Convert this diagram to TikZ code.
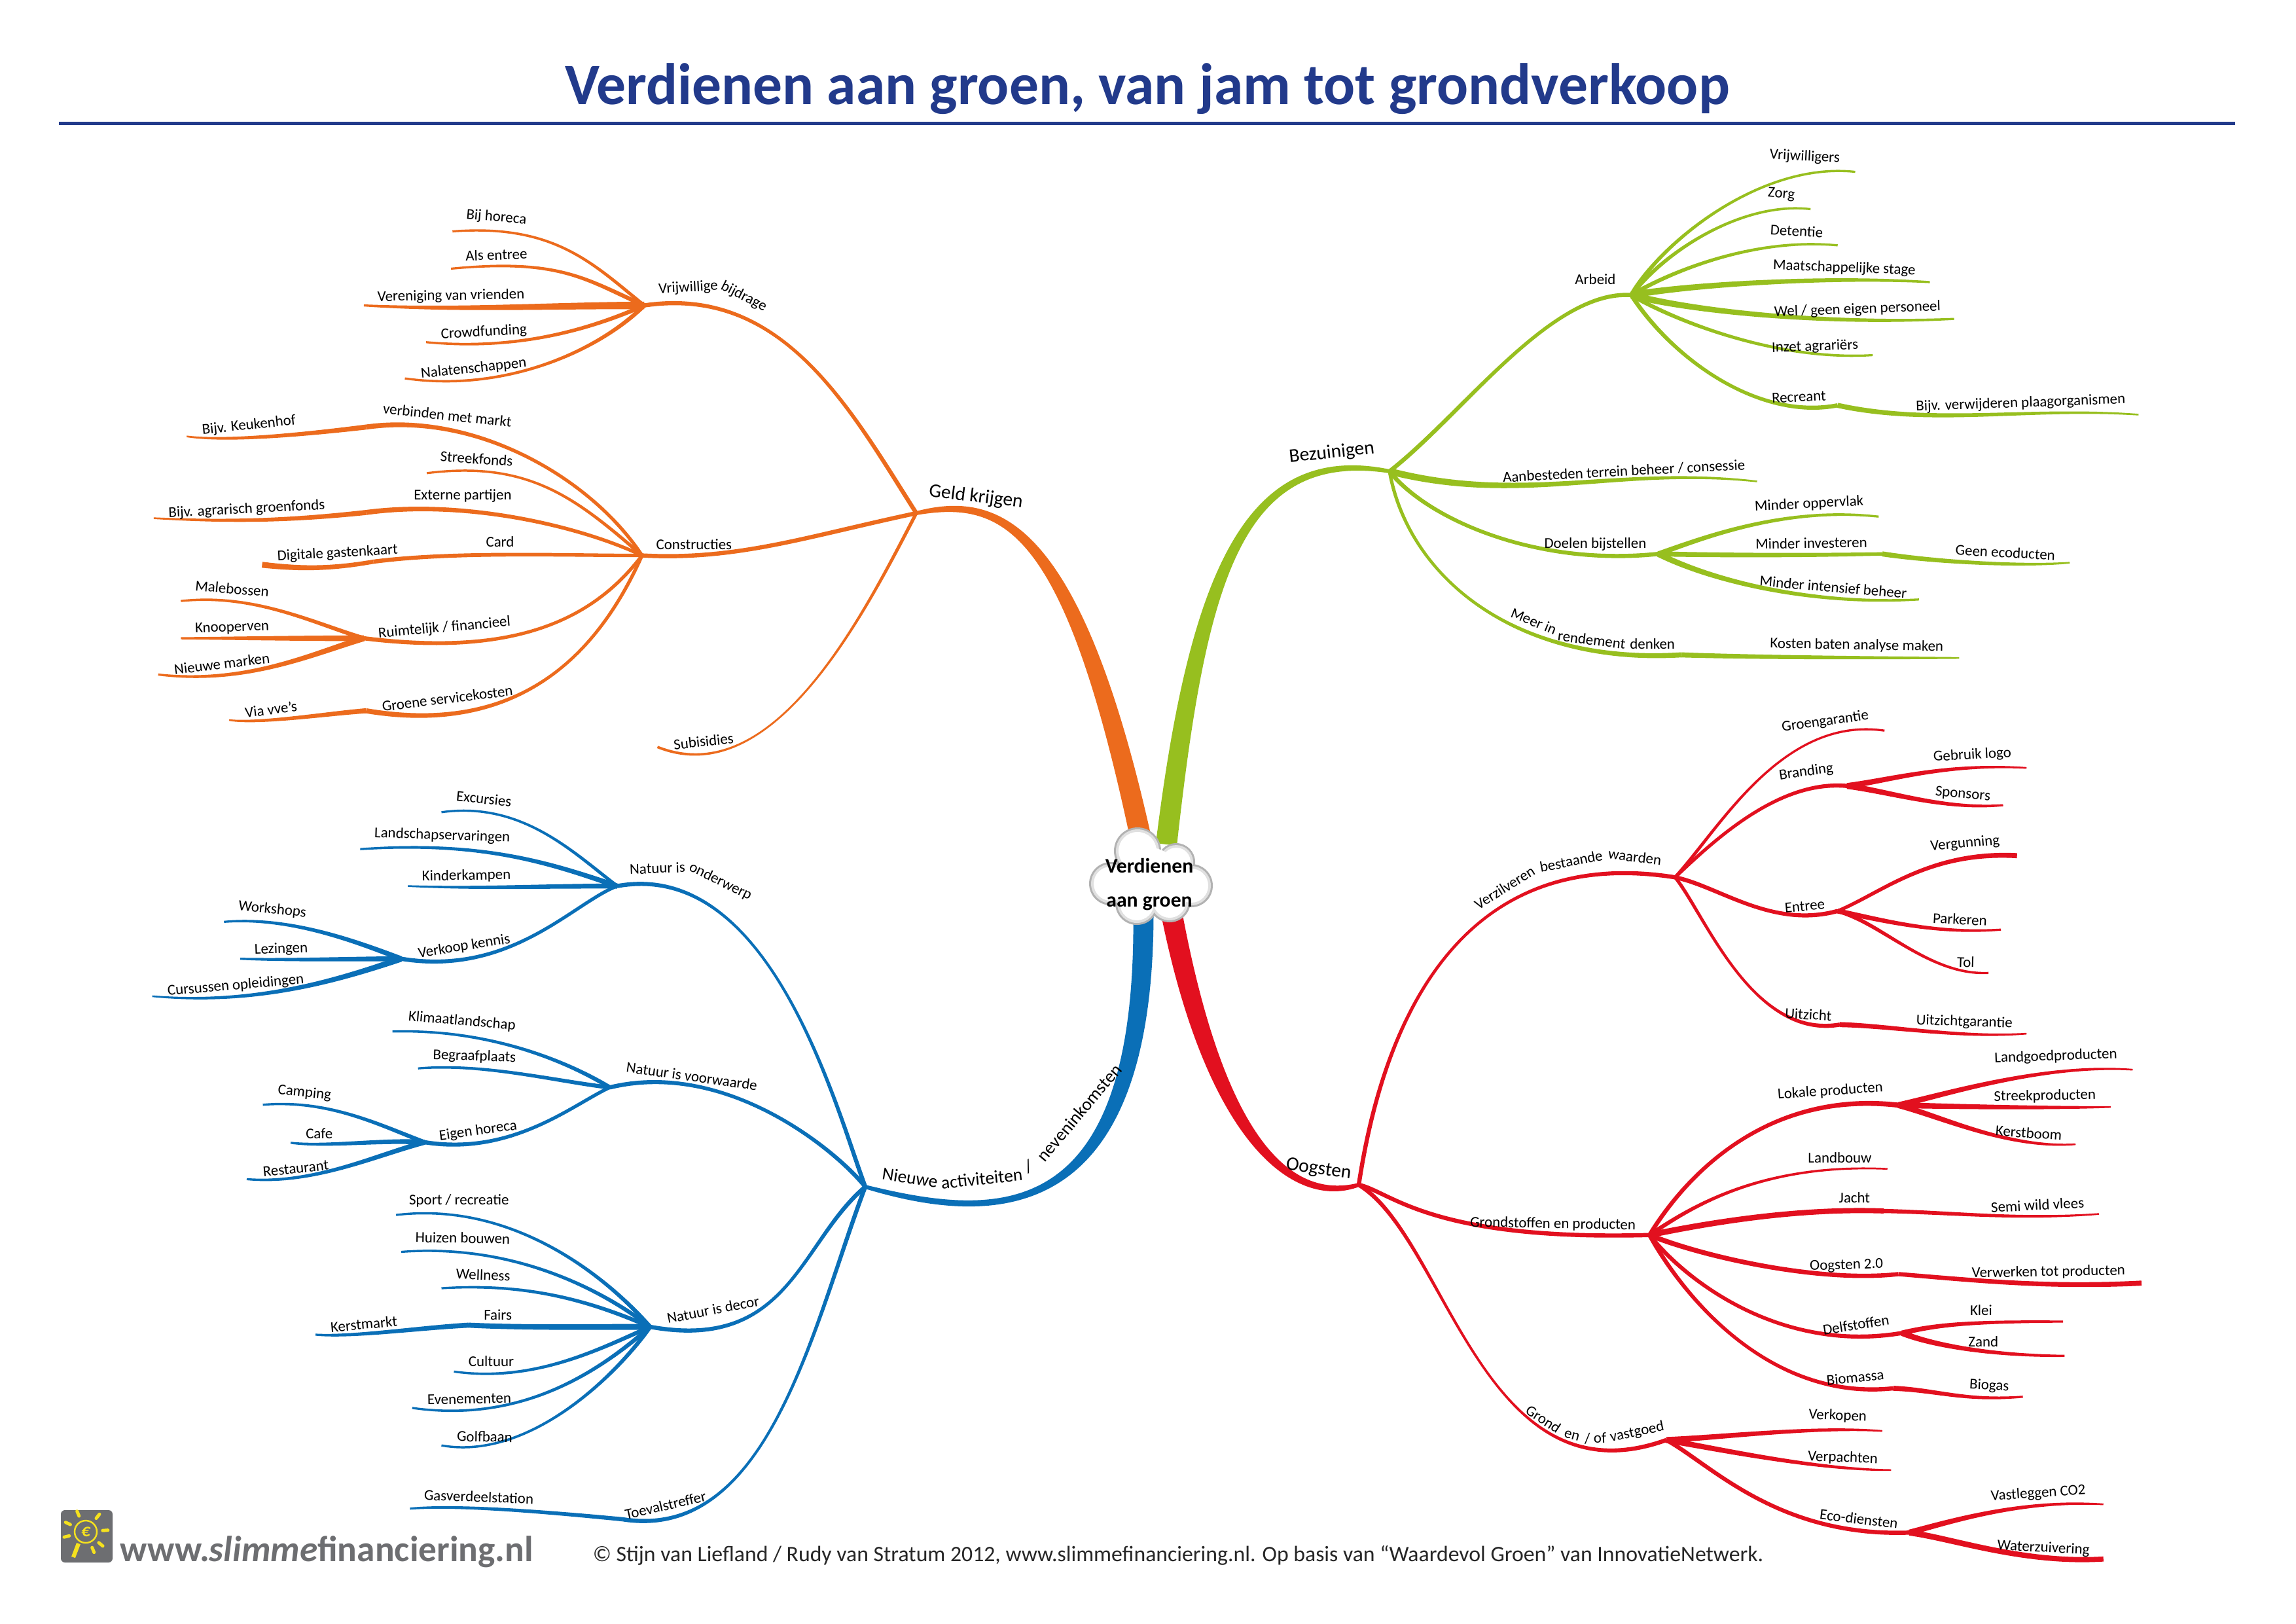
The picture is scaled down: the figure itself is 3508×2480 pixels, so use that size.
\documentclass[tikz,border=0pt]{standalone}
\usepackage{fontspec}
\setmainfont{Carlito}
\usetikzlibrary{calc}
\definecolor{corange}{HTML}{EC6B1D}
\definecolor{cgreen}{HTML}{97BF1F}
\definecolor{cblue}{HTML}{0A6FB7}
\definecolor{cred}{HTML}{E2101F}
\definecolor{ctitle}{HTML}{223A8B}
\definecolor{cgrey}{HTML}{6D6E71}
\definecolor{cyell}{HTML}{F5E11E}
\tikzset{
  lab/.style={font=\fontsize{5.5}{6.5}\selectfont,inner sep=0pt,text=black},
  mainlab/.style={font=\fontsize{7.1}{8}\selectfont,inner sep=0pt,text=black},
  nwlab/.style={font=\fontsize{6.6}{8}\selectfont,inner sep=0pt,text=black},
  ptA/.style={x=0.26847pt,y=-0.18980pt,shift={(0pt,0pt)}},
  ptB/.style={x=0.26847pt,y=-0.18980pt,shift={(420.96pt,0pt)}},
  ptC/.style={x=0.26847pt,y=-0.20510pt,shift={(0pt,-273.6pt)}},
  ptD/.style={x=0.26847pt,y=-0.22041pt,shift={(420.96pt,-249.6pt)}}
}
% tapered branch: from A to new coordinate B
\newcommand\lf[7]{%
  \coordinate (#2) at (#3);
  \path (#1) ++(#6) coordinate (tmpa);
  \path (#2) ++(#7) coordinate (tmpb);
  \pgfmathsetlengthmacro\ha{#4*0.155}%
  \pgfmathsetlengthmacro\hb{#5*0.155}%
  \pgfmathsetlengthmacro\hc{(0.8*#4+0.2*#5)*0.155}%
  \pgfmathsetlengthmacro\hd{(0.45*#4+0.55*#5)*0.155}%
  \fill[\cc] ($(#1)!\ha!90:(tmpa)$) .. controls ($(tmpa)!\hc!-90:(#1)$) and ($(tmpb)!\hd!90:(#2)$) .. ($(#2)!\hb!-90:(tmpb)$)
    -- ($(#2)!\hb!90:(tmpb)$) .. controls ($(tmpb)!\hd!-90:(#2)$) and ($(tmpa)!\hc!90:(#1)$) .. ($(#1)!\ha!-90:(tmpa)$) -- cycle;
}
\newcommand\lab[4]{\node[lab,rotate=#3] (#1) at (#2) {#4};}
\newcommand\mlab[4]{\node[mainlab,rotate=#3] (#1) at (#2) {#4};}
\newcommand\nlab[4]{\node[nwlab,rotate=#3] (#1) at (#2) {#4};}
\begin{document}
\begin{tikzpicture}[x=0.24pt,y=-0.24pt]
\useasboundingbox (0,0) rectangle (3508,2480);
\fill[white] (0,0) rectangle (3508,2480);
% title
\node[font=\fontsize{21.5}{24}\selectfont\bfseries,text=ctitle,inner sep=0pt,anchor=base] (title) at (1753,159) {Verdienen aan groen, van jam tot grondverkoop};
\coordinate (ruleL) at (90,188); \coordinate (ruleR) at (3415,188);
\draw[ctitle,line width=1.2pt] (ruleL) -- (ruleR);
% main branches
\coordinate (sGeld) at (1745,1290);
\coordinate (sBez) at (1782,1290);
\coordinate (sNw) at (1747,1395);
\coordinate (sOog) at (1790,1395);
\def\cc{corange}\lf{sGeld}{geld}{1400,784}{25}{4.5}{-105,-490}{130,-28}
\def\cc{cgreen}\lf{sBez}{bez}{2123,720}{25}{4.5}{48,-410}{-223,-40}
\def\cc{cblue}\lf{sNw}{nieuw}{1322,1813}{24}{4.5}{2,480}{200,55}
\def\cc{cred}\lf{sOog}{oog}{2076,1810}{25}{4.5}{70,360}{-96,30}
% ---------- orange
\begin{scope}[ptA]
\def\cc{corange}
\lf{geld}{vb}{880,590}{5}{5}{-90,-200}{190,-40}
\lf{geld}{con}{877,1073}{5}{5}{-150,45}{130,10}
\lf{geld}{sub}{898,1443}{4}{3}{-70,190}{160,90}
\lf{vb}{e1}{618,447}{4}{2.5}{-70,-80}{140,-15}
\lf{vb}{e2}{616,519}{5}{2.5}{-80,-50}{150,-20}
\lf{vb}{e3}{497,590}{9}{2.5}{-130,0}{130,10}
\lf{vb}{e4}{582,661}{5}{2.5}{-80,50}{120,16}
\lf{vb}{e5}{553,731}{5}{2.5}{-60,85}{140,28}
\lf{con}{verb}{500,825}{4}{6}{-70,-150}{150,-30}
\lf{verb}{e6}{255,843}{6}{2}{-60,10}{60,12}
\lf{con}{e7}{583,914}{4}{2.5}{-90,-110}{140,-25}
\lf{con}{ext}{500,990}{4}{6}{-90,-60}{130,-25}
\lf{ext}{e8}{210,1001}{6}{2}{-100,15}{110,8}
\lf{con}{card}{510,1085}{4}{5}{-110,0}{110,-20}
\lf{card}{e9}{358,1091}{5}{7}{-60,15}{50,8}
\lf{con}{ruim}{497,1233}{4}{5}{-70,130}{200,35}
\lf{ruim}{e10}{247,1161}{5}{2.5}{-70,-30}{100,-15}
\lf{ruim}{e11}{247,1233}{7}{2.5}{-100,0}{100,0}
\lf{ruim}{e12}{216,1303}{7}{2.5}{-70,30}{120,20}
\lf{con}{groene}{500,1373}{4}{6}{-60,190}{210,50}
\lf{groene}{e13}{313,1391}{6}{2}{-50,5}{40,8}
\mlab{tGeld}{1333,960}{-7}{Geld krijgen}
\lab{t1}{678,420}{-5}{Bij horeca}
\lab{t2}{678,492}{2}{Als entree}
\lab{t3}{616,572}{1}{Vereniging van vrienden}
\lab{t4}{661,642}{3}{Crowdfunding}
\lab{t5}{647,712}{6}{Nalatenschappen}
\lab{t6a}{940,556}{3}{Vrijwillige}
\lab{t6b}{1016,573}{-27}{bijdrage}
\lab{t7}{611,802}{-6}{verbinden met markt}
\lab{t8}{340,822}{6}{Bijv. Keukenhof}
\lab{t9}{651,886}{-4}{Streekfonds}
\lab{t10}{632,958}{0}{Externe partijen}
\lab{t11}{337,984}{3}{Bijv. agrarisch groenfonds}
\lab{t12}{683,1047}{0}{Card}
\lab{t13}{461,1069}{3}{Digitale gastenkaart}
\lab{t14}{948,1052}{0}{Constructies}
\lab{t15}{317,1137}{-5}{Malebossen}
\lab{t16}{317,1213}{2}{Knooperven}
\lab{t17}{303,1282}{7}{Nieuwe marken}
\lab{t18}{607,1213}{5}{Ruimtelijk / financieel}
\lab{t19}{370,1370}{7}{Via vve's}
\lab{t20}{611,1349}{7}{Groene servicekosten}
\lab{t21}{961,1432}{6}{Subisidies}
\end{scope}
% ---------- green
\begin{scope}[ptB]
\def\cc{cgreen}
\lf{bez}{arb}{660,570}{5}{5}{100,-110}{-110,-10}
\lf{bez}{g1}{832,930}{8}{2}{180,65}{-192,-30}
\lf{bez}{doel}{697,1070}{5}{5}{50,90}{-170,25}
\lf{bez}{meer}{728,1265}{4}{6}{25,200}{-230,20}
\lf{meer}{g2}{1108,1271}{6}{2}{100,5}{-100,0}
\lf{arb}{g3}{966,332}{5}{2.5}{40,-100}{-130,-20}
\lf{arb}{g4}{905,404}{5}{2.5}{50,-90}{-90,-15}
\lf{arb}{g5}{942,474}{5}{2.5}{60,-50}{-110,-15}
\lf{arb}{g6}{1068,545}{8}{2.5}{80,-20}{-140,-12}
\lf{arb}{g7}{1101,616}{8}{2.5}{80,30}{-180,12}
\lf{arb}{g8}{990,686}{5}{2.5}{60,50}{-130,12}
\lf{arb}{recr}{942,783}{5}{5}{55,120}{-110,30}
\lf{recr}{g9}{1353,801}{6}{2}{130,40}{-150,-15}
\lf{doel}{g10}{998,998}{6}{2.5}{60,-30}{-130,-20}
\lf{doel}{inv}{1003,1070}{6}{4}{100,3}{-100,3}
\lf{inv}{g11}{1259,1087}{6}{2}{70,15}{-70,8}
\lf{doel}{g12}{1053,1158}{7}{2.5}{70,50}{-150,12}
\mlab{tBez}{251,875}{6}{Bezuinigen}
\lab{u1}{897,303}{-3}{Vrijwilligers}
\lab{u2}{865,376}{-5}{Zorg}
\lab{u3}{886,446}{-3}{Detentie}
\lab{u4}{951,518}{-2}{Maatschappelijke stage}
\lab{u5}{969,598}{2}{Wel / geen eigen personeel}
\lab{u6}{911,670}{2}{Inzet agrariërs}
\lab{u7}{889,767}{3}{Recreant}
\lab{u8}{1192,779}{2}{Bijv. verwijderen plaagorganismen}
\lab{u9}{611,540}{0}{Arbeid}
\lab{u10}{650,910}{3}{Aanbesteden terrein beheer / consessie}
\lab{u11}{611,1052}{0}{Doelen bijstellen}
\lab{u12}{903,974}{3}{Minder oppervlak}
\lab{u13}{906,1049}{1}{Minder investeren}
\lab{u14}{1171,1067}{-3}{Geen ecoducten}
\lab{u15}{936,1134}{-5}{Minder intensief beheer}
\lab{u16a}{527,1200}{-22}{Meer in}
\lab{u16b}{606,1236}{-7}{rendement}
\lab{u16c}{689,1244}{0}{denken}
\lab{u17}{968,1247}{-1}{Kosten baten analyse maken}
\end{scope}
% ---------- blue
\begin{scope}[ptC]
\def\cc{cblue}
\lf{nieuw}{ond}{843,250}{5}{5}{-40,-140}{210,-50}
\lf{nieuw}{voor}{833,610}{5}{5}{-42,-68}{157,-50}
\lf{nieuw}{decor}{888,1038}{5}{5}{-90,100}{190,45}
\lf{nieuw}{toe}{850,1382}{5}{5}{-72,250}{200,42}
\lf{toe}{b1}{560,1363}{5}{2.5}{-80,-10}{70,-8}
\lf{ond}{b2}{603,118}{4}{2.5}{-60,-60}{110,-20}
\lf{ond}{b3}{492,184}{6}{2.5}{-90,-40}{170,-15}
\lf{ond}{b4}{557,250}{6}{2}{-110,0}{100,5}
\lf{ond}{kennis}{548,380}{4}{5}{-60,30}{150,32}
\lf{kennis}{b5}{306,314}{6}{2.5}{-60,-30}{90,-10}
\lf{kennis}{b6}{328,380}{6}{2.5}{-70,0}{70,3}
\lf{kennis}{b7}{208,447}{7}{2}{-90,40}{140,16}
\lf{voor}{b8}{536,510}{5}{2.5}{-50,-40}{140,-5}
\lf{voor}{b9}{571,576}{5}{2.5}{-70,-10}{90,-10}
\lf{voor}{eigen}{580,708}{4}{5}{-50,30}{120,25}
\lf{eigen}{b10}{359,641}{5}{2.5}{-60,-30}{90,-10}
\lf{eigen}{b11}{397,709}{6}{2.5}{-60,-5}{50,8}
\lf{eigen}{b12}{337,774}{6}{2.5}{-70,25}{90,10}
\lf{decor}{b13}{541,838}{5}{2.5}{-60,-90}{160,-25}
\lf{decor}{b14}{548,904}{5}{2.5}{-70,-70}{150,-15}
\lf{decor}{b15}{603,969}{5}{2.5}{-80,-45}{120,-10}
\lf{decor}{kerst}{640,1035}{7}{6}{-80,0}{80,5}
\lf{kerst}{b16}{431,1052}{6}{2.5}{-70,5}{50,5}
\lf{decor}{b17}{620,1118}{5}{2.5}{-70,40}{110,20}
\lf{decor}{b18}{563,1183}{5}{2.5}{-70,80}{150,28}
\lf{decor}{b19}{603,1250}{5}{2.5}{-45,85}{120,28}
\nlab{tNw1}{1243,771}{-9}{Nieuwe}
\nlab{tNw2}{1341,773}{6}{activiteiten}
\nlab{tNw3}{1405,752}{25}{/}
\nlab{tNw4}{1474,655}{50}{neveninkomsten}
\lab{v1}{661,94}{-6}{Excursies}
\lab{v2}{604,160}{-2}{Landschapservaringen}
\lab{v3}{637,232}{1}{Kinderkampen}
\lab{v4a}{898,218}{2}{Natuur is}
\lab{v4b}{984,242}{-26}{onderwerp}
\lab{v5}{372,292}{-6}{Workshops}
\lab{v6}{384,363}{2}{Lezingen}
\lab{v7}{322,428}{5}{Cursussen opleidingen}
\lab{v8}{634,358}{9}{Verkoop kennis}
\lab{v9}{631,492}{-5}{Klimaatlandschap}
\lab{v10}{648,555}{-2}{Begraafplaats}
\lab{v11}{945,590}{-8}{Natuur is voorwaarde}
\lab{v12}{416,620}{-6}{Camping}
\lab{v13}{436,692}{0}{Cafe}
\lab{v14}{404,755}{6}{Restaurant}
\lab{v15}{653,688}{8}{Eigen horeca}
\lab{v16}{627,813}{0}{Sport / recreatie}
\lab{v17}{632,879}{-1}{Huizen bouwen}
\lab{v18}{660,945}{-2}{Wellness}
\lab{v19}{680,1016}{0}{Fairs}
\lab{v20}{497,1033}{5}{Kerstmarkt}
\lab{v21}{974,1007}{11}{Natuur is decor}
\lab{v22}{671,1100}{0}{Cultuur}
\lab{v23}{641,1167}{1}{Evenementen}
\lab{v24}{662,1234}{-1}{Golfbaan}
\lab{v25}{654,1342}{-2}{Gasverdeelstation}
\lab{v26}{909,1357}{13}{Toevalstreffer}
\end{scope}
% ---------- red
\begin{scope}[ptD]
\def\cc{cred}
\lf{oog}{verz}{720,327}{5}{5}{42,-338}{-260,-50}
\lf{oog}{gron}{685,922}{5}{5}{45,12}{-300,10}
\lf{oog}{grond}{708,1263}{5}{5}{120,90}{-250,110}
\lf{verz}{r1}{1006,83}{4}{2.5}{60,-80}{-140,-25}
\lf{verz}{brand}{955,175}{4}{5}{60,-70}{-90,-10}
\lf{brand}{r2}{1200,145}{7}{2}{60,-10}{-110,-8}
\lf{brand}{r3}{1168,207}{7}{2.5}{60,10}{-80,8}
\lf{verz}{entr}{942,383}{5}{5}{60,15}{-90,30}
\lf{entr}{r4}{1187,291}{4}{6}{60,-30}{-120,-8}
\lf{entr}{r5}{1165,414}{6}{2.5}{60,15}{-90,8}
\lf{entr}{r6}{1148,486}{5}{2.5}{60,20}{-80,5}
\lf{verz}{uitz}{945,572}{4}{5}{40,60}{-120,25}
\lf{uitz}{r7}{1200,587}{6}{2}{70,2}{-90,8}
\lf{gron}{lok}{1025,706}{5}{6}{50,-100}{-180,-25}
\lf{lok}{r8}{1345,647}{7}{2}{70,-20}{-120,-10}
\lf{lok}{r9}{1315,709}{7}{2}{100,3}{-80,2}
\lf{lok}{r10}{1267,771}{7}{2}{60,20}{-90,8}
\lf{gron}{r11}{1010,812}{5}{2}{50,-40}{-180,-10}
\lf{gron}{jacht}{1005,882}{7}{6}{80,-20}{-120,-5}
\lf{jacht}{r12}{1299,887}{5}{2}{100,3}{-110,10}
\lf{gron}{oog2}{1025,987}{6}{5}{70,35}{-110,15}
\lf{oog2}{r13}{1357,1002}{5}{6}{100,10}{-130,8}
\lf{gron}{delf}{1030,1085}{5}{5}{45,70}{-170,35}
\lf{delf}{r14}{1250,1066}{6}{2.5}{50,-15}{-120,0}
\lf{delf}{r15}{1252,1123}{7}{2.5}{40,20}{-100,0}
\lf{gron}{bio}{1018,1177}{5}{5}{45,100}{-170,22}
\lf{bio}{r16}{1195,1191}{6}{2.5}{60,3}{-80,8}
\lf{grond}{r17}{1003,1248}{7}{2}{80,-5}{-90,-8}
\lf{grond}{r18}{1015,1313}{7}{2}{70,15}{-100,0}
\lf{grond}{eco}{1040,1417}{5}{5}{60,40}{-180,8}
\lf{eco}{r19}{1305,1370}{7}{2}{60,-20}{-110,-8}
\lf{eco}{r20}{1305,1461}{7}{6}{60,10}{-110,8}
\mlab{tOog}{233,813}{-8}{Oogsten}
\lab{w1}{487,344}{32}{Verzilveren}
\lab{w2}{578,300}{11}{bestaande}
\lab{w3}{665,293}{-7}{waarden}
\lab{w4}{925,68}{8}{Groengarantie}
\lab{w5}{899,152}{8}{Branding}
\lab{w6}{1126,124}{3}{Gebruik logo}
\lab{w7}{1113,189}{-5}{Sponsors}
\lab{w8}{1116,271}{5}{Vergunning}
\lab{w9}{897,375}{5}{Entree}
\lab{w10}{1109,397}{-3}{Parkeren}
\lab{w11}{1117,468}{-2}{Tol}
\lab{w12}{902,555}{-3}{Uitzicht}
\lab{w13}{1115,568}{-2}{Uitzichtgarantie}
\lab{w14}{932,683}{4}{Lokale producten}
\lab{w15}{1240,625}{2}{Landgoedproducten}
\lab{w16}{1225,691}{1}{Streekproducten}
\lab{w17}{1203,752}{-4}{Kerstboom}
\lab{w18}{945,793}{0}{Landbouw}
\lab{w19}{965,860}{0}{Jacht}
\lab{w20}{1215,872}{3}{Semi wild vlees}
\lab{w21}{553,904}{-1}{Grondstoffen en producten}
\lab{w22}{954,973}{2}{Oogsten 2.0}
\lab{w23}{1230,984}{1}{Verwerken tot producten}
\lab{w24}{967,1071}{9}{Delfstoffen}
\lab{w25}{1138,1047}{0}{Klei}
\lab{w26}{1141,1099}{0}{Zand}
\lab{w27}{966,1159}{6}{Biomassa}
\lab{w28}{1149,1173}{-3}{Biogas}
\lab{w29}{942,1223}{-2}{Verkopen}
\lab{w30}{949,1293}{-2}{Verpachten}
\lab{w31a}{540,1228}{-33}{Grond}
\lab{w31b}{579,1256}{-15}{en}
\lab{w31c}{611,1260}{2}{/ of}
\lab{w31d}{668,1250}{12}{vastgoed}
\lab{w32}{971,1394}{-7}{Eco-diensten}
\lab{w33}{1216,1352}{4}{Vastleggen CO2}
\lab{w34}{1223,1443}{-3}{Waterzuivering}
\end{scope}
% ---------- cloud
\foreach \cx/\cy/\r in {1738/1300/35,1697/1350/32,1797/1317/28,1820/1353/32,1737/1380/32,1787/1377/31}{
  \fill[black!30] (\cx,\cy) circle (\r+1);}
\foreach \cx/\cy/\r in {1738/1300/35,1697/1350/32,1797/1317/28,1820/1353/32,1737/1380/32,1787/1377/31}{
  \fill[black!12] (\cx,\cy) circle (\r-2);}
\foreach \cx/\cy/\r in {1738/1300/35,1697/1350/32,1797/1317/28,1820/1353/32,1737/1380/32,1787/1377/31}{
  \fill[white] (\cx,\cy) circle (\r-6);}
\fill[white] (1757,1340) circle (45);
\node[font=\fontsize{7.6}{12.5}\selectfont\bfseries,align=center,inner sep=0pt,text=black] (center) at (1756,1351) {Verdienen\\aan groen};
% ---------- footer
\fill[cgrey,rounded corners=1.5pt] (93,2307) rectangle (172,2387);
\coordinate (bulb) at (131,2340);
\foreach \a in {-113,-52,-4,40,68,-155,166}{
  \draw[cyell,line width=1.2pt,line cap=round] ($(bulb)+(\a:26)$) -- ($(bulb)+(\a:34)$);}
\draw[cyell,line width=0.6pt] (bulb) circle (17);
\draw[cyell,line width=1.5pt] (120,2358) -- (112,2379);
\node[font=\fontsize{6.5}{7}\selectfont\bfseries\itshape,text=cyell,inner sep=0pt] (euro) at (bulb) {€};
\node[font=\fontsize{13.3}{15}\selectfont\bfseries,text=cgrey,inner sep=0pt,anchor=base west] (url) at (183,2385) {www.\textit{slimme}financiering.nl};
\node[font=\fontsize{8.1}{10}\selectfont,text=black!85,inner sep=0pt,anchor=west] (copy) at (905,2376) {© Stijn van Liefland / Rudy van Stratum 2012, www.slimmefinanciering.nl. Op basis van “Waardevol Groen” van InnovatieNetwerk.};
\end{tikzpicture}
\end{document}
